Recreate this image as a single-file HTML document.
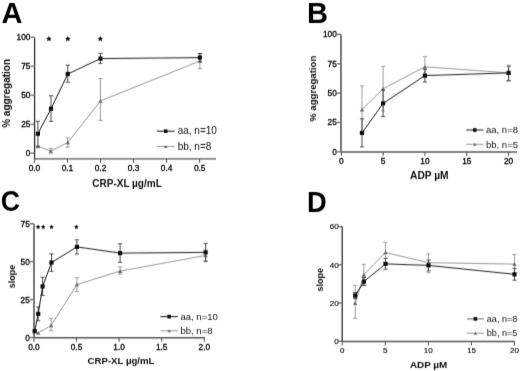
<!DOCTYPE html>
<html><head><meta charset="utf-8"><style>
html,body{margin:0;padding:0;background:#fff;}
body{width:520px;height:371px;overflow:hidden;}
svg{display:block;font-family:"Liberation Sans", sans-serif;filter:grayscale(1);}
</style></head><body>
<svg width="520" height="371" viewBox="0 0 520 371">
<defs><filter id="bl" x="-5%" y="-5%" width="110%" height="110%"><feConvolveMatrix order="3 3" kernelMatrix="0.0065 0.1170 0.0065 0.0370 0.6660 0.0370 0.0065 0.1170 0.0065" divisor="1" edgeMode="duplicate" preserveAlpha="false"/></filter></defs>
<rect width="520" height="371" fill="#fff"/>
<g filter="url(#bl)">
<text x="1.4" y="22.5" font-size="29" text-anchor="start" font-weight="bold" fill="#000">A</text>
<line x1="34.6" y1="37.3" x2="34.6" y2="158.85" stroke="#333" stroke-width="1.3"/>
<line x1="30.6" y1="153.2" x2="34.6" y2="153.2" stroke="#707070" stroke-width="1.4"/>
<text x="30.4" y="156.1" font-size="8.3" text-anchor="end" font-weight="normal" fill="#000" stroke="#000" stroke-width="0.3">0</text>
<line x1="30.6" y1="124.22" x2="34.6" y2="124.22" stroke="#707070" stroke-width="1.4"/>
<text x="30.4" y="127.12" font-size="8.3" text-anchor="end" font-weight="normal" fill="#000" stroke="#000" stroke-width="0.3">25</text>
<line x1="30.6" y1="95.25" x2="34.6" y2="95.25" stroke="#707070" stroke-width="1.4"/>
<text x="30.4" y="98.15" font-size="8.3" text-anchor="end" font-weight="normal" fill="#000" stroke="#000" stroke-width="0.3">50</text>
<line x1="30.6" y1="66.27" x2="34.6" y2="66.27" stroke="#707070" stroke-width="1.4"/>
<text x="30.4" y="69.17" font-size="8.3" text-anchor="end" font-weight="normal" fill="#000" stroke="#000" stroke-width="0.3">75</text>
<line x1="30.6" y1="37.3" x2="34.6" y2="37.3" stroke="#707070" stroke-width="1.4"/>
<text x="30.4" y="40.2" font-size="8.3" text-anchor="end" font-weight="normal" fill="#000" stroke="#000" stroke-width="0.3">100</text>
<line x1="34.6" y1="158.85" x2="216" y2="158.85" stroke="#555" stroke-width="1.45"/>
<line x1="34.4" y1="158.85" x2="34.4" y2="162.85" stroke="#505050" stroke-width="1.0"/>
<text x="34.4" y="170.55" font-size="8.3" text-anchor="middle" font-weight="normal" fill="#000" stroke="#000" stroke-width="0.3">0.0</text>
<line x1="67.45" y1="158.85" x2="67.45" y2="162.85" stroke="#505050" stroke-width="1.0"/>
<text x="67.45" y="170.55" font-size="8.3" text-anchor="middle" font-weight="normal" fill="#000" stroke="#000" stroke-width="0.3">0.1</text>
<line x1="100.5" y1="158.85" x2="100.5" y2="162.85" stroke="#505050" stroke-width="1.0"/>
<text x="100.5" y="170.55" font-size="8.3" text-anchor="middle" font-weight="normal" fill="#000" stroke="#000" stroke-width="0.3">0.2</text>
<line x1="133.55" y1="158.85" x2="133.55" y2="162.85" stroke="#505050" stroke-width="1.0"/>
<text x="133.55" y="170.55" font-size="8.3" text-anchor="middle" font-weight="normal" fill="#000" stroke="#000" stroke-width="0.3">0.3</text>
<line x1="166.6" y1="158.85" x2="166.6" y2="162.85" stroke="#505050" stroke-width="1.0"/>
<text x="166.6" y="170.55" font-size="8.3" text-anchor="middle" font-weight="normal" fill="#000" stroke="#000" stroke-width="0.3">0.4</text>
<line x1="199.65" y1="158.85" x2="199.65" y2="162.85" stroke="#505050" stroke-width="1.0"/>
<text x="199.65" y="170.55" font-size="8.3" text-anchor="middle" font-weight="normal" fill="#000" stroke="#000" stroke-width="0.3">0.5</text>
<text x="127" y="187.4" font-size="10" text-anchor="middle" font-weight="bold" fill="#111">CRP-XL µg/mL</text>
<text x="9.8" y="93.4" font-size="10" text-anchor="middle" font-weight="bold" fill="#111" transform="rotate(-90 9.8 93.4)">% aggregation</text>
<polygon points="48.90,35.90 49.75,37.63 51.66,37.90 50.28,39.25 50.60,41.15 48.90,40.25 47.20,41.15 47.52,39.25 46.14,37.90 48.05,37.63" fill="#111"/>
<polygon points="67.80,35.90 68.65,37.63 70.56,37.90 69.18,39.25 69.50,41.15 67.80,40.25 66.10,41.15 66.42,39.25 65.04,37.90 66.95,37.63" fill="#111"/>
<polygon points="100.30,35.90 101.15,37.63 103.06,37.90 101.68,39.25 102.00,41.15 100.30,40.25 98.60,41.15 98.92,39.25 97.54,37.90 99.45,37.63" fill="#111"/>
<line x1="50.8" y1="148.6" x2="50.8" y2="153.2" stroke="#9a9a9a" stroke-width="0.95"/>
<line x1="48.7" y1="148.6" x2="52.9" y2="148.6" stroke="#9a9a9a" stroke-width="0.95"/>
<line x1="48.7" y1="153.2" x2="52.9" y2="153.2" stroke="#9a9a9a" stroke-width="0.95"/>
<line x1="67.8" y1="137.8" x2="67.8" y2="147.2" stroke="#9a9a9a" stroke-width="0.95"/>
<line x1="65.7" y1="137.8" x2="69.9" y2="137.8" stroke="#9a9a9a" stroke-width="0.95"/>
<line x1="65.7" y1="147.2" x2="69.9" y2="147.2" stroke="#9a9a9a" stroke-width="0.95"/>
<line x1="100.5" y1="78.5" x2="100.5" y2="120.5" stroke="#9a9a9a" stroke-width="0.95"/>
<line x1="98.4" y1="78.5" x2="102.6" y2="78.5" stroke="#9a9a9a" stroke-width="0.95"/>
<line x1="98.4" y1="120.5" x2="102.6" y2="120.5" stroke="#9a9a9a" stroke-width="0.95"/>
<line x1="199.9" y1="54" x2="199.9" y2="68.6" stroke="#9a9a9a" stroke-width="0.95"/>
<line x1="197.8" y1="54" x2="202" y2="54" stroke="#9a9a9a" stroke-width="0.95"/>
<line x1="197.8" y1="68.6" x2="202" y2="68.6" stroke="#9a9a9a" stroke-width="0.95"/>
<path d="M37.9,146.3 L50.8,151.0 L67.8,142.5 L100.5,100.9 L199.9,61.0" fill="none" stroke="#8a8a8a" stroke-width="0.9"/>
<path d="M35.699999999999996,148.17000000000002 L40.1,148.17000000000002 L37.9,144.43 Z" fill="#6a6a6a"/>
<path d="M48.599999999999994,152.87 L53.0,152.87 L50.8,149.13 Z" fill="#6a6a6a"/>
<path d="M65.6,144.37 L70.0,144.37 L67.8,140.63 Z" fill="#6a6a6a"/>
<path d="M98.3,102.77000000000001 L102.7,102.77000000000001 L100.5,99.03 Z" fill="#6a6a6a"/>
<path d="M197.70000000000002,62.87 L202.1,62.87 L199.9,59.13 Z" fill="#6a6a6a"/>
<line x1="37.9" y1="121.3" x2="37.9" y2="146.3" stroke="#444" stroke-width="0.95"/>
<line x1="35.8" y1="121.3" x2="40" y2="121.3" stroke="#444" stroke-width="0.95"/>
<line x1="35.8" y1="146.3" x2="40" y2="146.3" stroke="#444" stroke-width="0.95"/>
<line x1="51" y1="95.7" x2="51" y2="121.4" stroke="#444" stroke-width="0.95"/>
<line x1="48.9" y1="95.7" x2="53.1" y2="95.7" stroke="#444" stroke-width="0.95"/>
<line x1="48.9" y1="121.4" x2="53.1" y2="121.4" stroke="#444" stroke-width="0.95"/>
<line x1="67.8" y1="65.2" x2="67.8" y2="82.2" stroke="#444" stroke-width="0.95"/>
<line x1="65.7" y1="65.2" x2="69.9" y2="65.2" stroke="#444" stroke-width="0.95"/>
<line x1="65.7" y1="82.2" x2="69.9" y2="82.2" stroke="#444" stroke-width="0.95"/>
<line x1="100.5" y1="53.4" x2="100.5" y2="63.4" stroke="#444" stroke-width="0.95"/>
<line x1="98.4" y1="53.4" x2="102.6" y2="53.4" stroke="#444" stroke-width="0.95"/>
<line x1="98.4" y1="63.4" x2="102.6" y2="63.4" stroke="#444" stroke-width="0.95"/>
<line x1="199.9" y1="53.5" x2="199.9" y2="61.7" stroke="#444" stroke-width="0.95"/>
<line x1="197.8" y1="53.5" x2="202" y2="53.5" stroke="#444" stroke-width="0.95"/>
<line x1="197.8" y1="61.7" x2="202" y2="61.7" stroke="#444" stroke-width="0.95"/>
<path d="M37.9,133.8 L51.0,108.7 L67.8,74.0 L100.5,58.6 L199.9,57.6" fill="none" stroke="#111" stroke-width="0.95"/>
<rect x="35.8" y="131.70000000000002" width="4.2" height="4.2" fill="#111"/>
<rect x="48.9" y="106.60000000000001" width="4.2" height="4.2" fill="#111"/>
<rect x="65.7" y="71.9" width="4.2" height="4.2" fill="#111"/>
<rect x="98.4" y="56.5" width="4.2" height="4.2" fill="#111"/>
<rect x="197.8" y="55.5" width="4.2" height="4.2" fill="#111"/>
<line x1="156.9" y1="131.2" x2="174.6" y2="131.2" stroke="#111" stroke-width="1.0"/>
<rect x="163.95" y="129.39999999999998" width="3.6" height="3.6" fill="#111"/>
<text x="177.7" y="134.3" font-size="10" text-anchor="start" font-weight="normal" fill="#111">aa, n=10</text>
<line x1="156.9" y1="146.5" x2="174.6" y2="146.5" stroke="#8a8a8a" stroke-width="0.9"/>
<path d="M163.95,148.03 L167.55,148.03 L165.75,144.97 Z" fill="#6a6a6a"/>
<text x="177.7" y="149.6" font-size="10" text-anchor="start" font-weight="normal" fill="#111">bb, n=8</text>
<text x="307.1" y="22.5" font-size="29" text-anchor="start" font-weight="bold" fill="#000">B</text>
<line x1="341" y1="34.4" x2="341" y2="152" stroke="#333" stroke-width="1.3"/>
<line x1="337" y1="151.8" x2="341" y2="151.8" stroke="#707070" stroke-width="1.4"/>
<text x="336.8" y="154.7" font-size="8.3" text-anchor="end" font-weight="normal" fill="#000" stroke="#000" stroke-width="0.3">0</text>
<line x1="337" y1="122.45" x2="341" y2="122.45" stroke="#707070" stroke-width="1.4"/>
<text x="336.8" y="125.35" font-size="8.3" text-anchor="end" font-weight="normal" fill="#000" stroke="#000" stroke-width="0.3">25</text>
<line x1="337" y1="93.1" x2="341" y2="93.1" stroke="#707070" stroke-width="1.4"/>
<text x="336.8" y="96" font-size="8.3" text-anchor="end" font-weight="normal" fill="#000" stroke="#000" stroke-width="0.3">50</text>
<line x1="337" y1="63.75" x2="341" y2="63.75" stroke="#707070" stroke-width="1.4"/>
<text x="336.8" y="66.65" font-size="8.3" text-anchor="end" font-weight="normal" fill="#000" stroke="#000" stroke-width="0.3">75</text>
<line x1="337" y1="34.4" x2="341" y2="34.4" stroke="#707070" stroke-width="1.4"/>
<text x="336.8" y="37.3" font-size="8.3" text-anchor="end" font-weight="normal" fill="#000" stroke="#000" stroke-width="0.3">100</text>
<line x1="341" y1="152" x2="517" y2="152" stroke="#555" stroke-width="1.45"/>
<line x1="341.3" y1="152" x2="341.3" y2="156" stroke="#505050" stroke-width="1.0"/>
<text x="341.3" y="163.7" font-size="8.3" text-anchor="middle" font-weight="normal" fill="#000" stroke="#000" stroke-width="0.3">0</text>
<line x1="383.12" y1="152" x2="383.12" y2="156" stroke="#505050" stroke-width="1.0"/>
<text x="383.12" y="163.7" font-size="8.3" text-anchor="middle" font-weight="normal" fill="#000" stroke="#000" stroke-width="0.3">5</text>
<line x1="424.95" y1="152" x2="424.95" y2="156" stroke="#505050" stroke-width="1.0"/>
<text x="424.95" y="163.7" font-size="8.3" text-anchor="middle" font-weight="normal" fill="#000" stroke="#000" stroke-width="0.3">10</text>
<line x1="466.78" y1="152" x2="466.78" y2="156" stroke="#505050" stroke-width="1.0"/>
<text x="466.78" y="163.7" font-size="8.3" text-anchor="middle" font-weight="normal" fill="#000" stroke="#000" stroke-width="0.3">15</text>
<line x1="508.6" y1="152" x2="508.6" y2="156" stroke="#505050" stroke-width="1.0"/>
<text x="508.6" y="163.7" font-size="8.3" text-anchor="middle" font-weight="normal" fill="#000" stroke="#000" stroke-width="0.3">20</text>
<text x="429.3" y="179.1" font-size="10.2" text-anchor="middle" font-weight="bold" fill="#111">ADP µM</text>
<text x="316.4" y="88.8" font-size="9.6" text-anchor="middle" font-weight="bold" fill="#111" transform="rotate(-90 316.4 88.8)">% aggregation</text>
<line x1="362" y1="85.8" x2="362" y2="133.2" stroke="#9a9a9a" stroke-width="0.95"/>
<line x1="359.9" y1="85.8" x2="364.1" y2="85.8" stroke="#9a9a9a" stroke-width="0.95"/>
<line x1="359.9" y1="133.2" x2="364.1" y2="133.2" stroke="#9a9a9a" stroke-width="0.95"/>
<line x1="383.1" y1="66.4" x2="383.1" y2="111" stroke="#9a9a9a" stroke-width="0.95"/>
<line x1="381" y1="66.4" x2="385.2" y2="66.4" stroke="#9a9a9a" stroke-width="0.95"/>
<line x1="381" y1="111" x2="385.2" y2="111" stroke="#9a9a9a" stroke-width="0.95"/>
<line x1="424.9" y1="56.6" x2="424.9" y2="77" stroke="#9a9a9a" stroke-width="0.95"/>
<line x1="422.8" y1="56.6" x2="427" y2="56.6" stroke="#9a9a9a" stroke-width="0.95"/>
<line x1="422.8" y1="77" x2="427" y2="77" stroke="#9a9a9a" stroke-width="0.95"/>
<line x1="508.6" y1="65.2" x2="508.6" y2="81.2" stroke="#9a9a9a" stroke-width="0.95"/>
<line x1="506.5" y1="65.2" x2="510.7" y2="65.2" stroke="#9a9a9a" stroke-width="0.95"/>
<line x1="506.5" y1="81.2" x2="510.7" y2="81.2" stroke="#9a9a9a" stroke-width="0.95"/>
<path d="M362,109.6 L383.1,88.8 L424.9,66.8 L508.6,72.9" fill="none" stroke="#8a8a8a" stroke-width="0.9"/>
<path d="M359.8,111.47 L364.2,111.47 L362,107.72999999999999 Z" fill="#6a6a6a"/>
<path d="M380.90000000000003,90.67 L385.3,90.67 L383.1,86.92999999999999 Z" fill="#6a6a6a"/>
<path d="M422.7,68.67 L427.09999999999997,68.67 L424.9,64.92999999999999 Z" fill="#6a6a6a"/>
<path d="M506.40000000000003,74.77000000000001 L510.8,74.77000000000001 L508.6,71.03 Z" fill="#6a6a6a"/>
<line x1="362" y1="118.8" x2="362" y2="146.8" stroke="#444" stroke-width="0.95"/>
<line x1="359.9" y1="118.8" x2="364.1" y2="118.8" stroke="#444" stroke-width="0.95"/>
<line x1="359.9" y1="146.8" x2="364.1" y2="146.8" stroke="#444" stroke-width="0.95"/>
<line x1="383.1" y1="90.2" x2="383.1" y2="116.6" stroke="#444" stroke-width="0.95"/>
<line x1="381" y1="90.2" x2="385.2" y2="90.2" stroke="#444" stroke-width="0.95"/>
<line x1="381" y1="116.6" x2="385.2" y2="116.6" stroke="#444" stroke-width="0.95"/>
<line x1="424.9" y1="69.2" x2="424.9" y2="82" stroke="#444" stroke-width="0.95"/>
<line x1="422.8" y1="69.2" x2="427" y2="69.2" stroke="#444" stroke-width="0.95"/>
<line x1="422.8" y1="82" x2="427" y2="82" stroke="#444" stroke-width="0.95"/>
<line x1="508.6" y1="66.2" x2="508.6" y2="80.5" stroke="#444" stroke-width="0.95"/>
<line x1="506.5" y1="66.2" x2="510.7" y2="66.2" stroke="#444" stroke-width="0.95"/>
<line x1="506.5" y1="80.5" x2="510.7" y2="80.5" stroke="#444" stroke-width="0.95"/>
<path d="M362,132.9 L383.1,103.4 L424.9,75.6 L508.6,72.9" fill="none" stroke="#111" stroke-width="0.95"/>
<rect x="359.9" y="130.8" width="4.2" height="4.2" fill="#111"/>
<rect x="381.0" y="101.30000000000001" width="4.2" height="4.2" fill="#111"/>
<rect x="422.79999999999995" y="73.5" width="4.2" height="4.2" fill="#111"/>
<rect x="506.5" y="70.80000000000001" width="4.2" height="4.2" fill="#111"/>
<line x1="466.3" y1="130" x2="483.3" y2="130" stroke="#111" stroke-width="1.0"/>
<rect x="473.0" y="128.2" width="3.6" height="3.6" fill="#111"/>
<text x="486" y="133.2" font-size="9.5" text-anchor="start" font-weight="normal" fill="#111">aa, n=8</text>
<line x1="466.3" y1="144.3" x2="483.3" y2="144.3" stroke="#8a8a8a" stroke-width="0.9"/>
<path d="M473.0,145.83 L476.6,145.83 L474.8,142.77 Z" fill="#6a6a6a"/>
<text x="486" y="147.5" font-size="9.5" text-anchor="start" font-weight="normal" fill="#111">bb, n=5</text>
<text x="0.7" y="211.1" font-size="29" text-anchor="start" font-weight="bold" fill="#000" transform="translate(0.7 211.1) scale(0.92 1) translate(-0.7 -211.1)">C</text>
<line x1="34" y1="223.68" x2="34" y2="337.8" stroke="#333" stroke-width="1.3"/>
<line x1="30" y1="337.6" x2="34" y2="337.6" stroke="#707070" stroke-width="1.4"/>
<text x="29.8" y="340.5" font-size="8.3" text-anchor="end" font-weight="normal" fill="#000" stroke="#000" stroke-width="0.3">0</text>
<line x1="30" y1="299.62" x2="34" y2="299.62" stroke="#707070" stroke-width="1.4"/>
<text x="29.8" y="302.52" font-size="8.3" text-anchor="end" font-weight="normal" fill="#000" stroke="#000" stroke-width="0.3">25</text>
<line x1="30" y1="261.65" x2="34" y2="261.65" stroke="#707070" stroke-width="1.4"/>
<text x="29.8" y="264.55" font-size="8.3" text-anchor="end" font-weight="normal" fill="#000" stroke="#000" stroke-width="0.3">50</text>
<line x1="30" y1="223.68" x2="34" y2="223.68" stroke="#707070" stroke-width="1.4"/>
<text x="29.8" y="226.58" font-size="8.3" text-anchor="end" font-weight="normal" fill="#000" stroke="#000" stroke-width="0.3">75</text>
<line x1="34" y1="337.8" x2="205" y2="337.8" stroke="#555" stroke-width="1.45"/>
<line x1="33.9" y1="337.8" x2="33.9" y2="341.8" stroke="#505050" stroke-width="1.0"/>
<text x="33.9" y="349.5" font-size="8.3" text-anchor="middle" font-weight="normal" fill="#000" stroke="#000" stroke-width="0.3">0.0</text>
<line x1="76.5" y1="337.8" x2="76.5" y2="341.8" stroke="#505050" stroke-width="1.0"/>
<text x="76.5" y="349.5" font-size="8.3" text-anchor="middle" font-weight="normal" fill="#000" stroke="#000" stroke-width="0.3">0.5</text>
<line x1="119.1" y1="337.8" x2="119.1" y2="341.8" stroke="#505050" stroke-width="1.0"/>
<text x="119.1" y="349.5" font-size="8.3" text-anchor="middle" font-weight="normal" fill="#000" stroke="#000" stroke-width="0.3">1.0</text>
<line x1="161.7" y1="337.8" x2="161.7" y2="341.8" stroke="#505050" stroke-width="1.0"/>
<text x="161.7" y="349.5" font-size="8.3" text-anchor="middle" font-weight="normal" fill="#000" stroke="#000" stroke-width="0.3">1.5</text>
<line x1="204.3" y1="337.8" x2="204.3" y2="341.8" stroke="#505050" stroke-width="1.0"/>
<text x="204.3" y="349.5" font-size="8.3" text-anchor="middle" font-weight="normal" fill="#000" stroke="#000" stroke-width="0.3">2.0</text>
<text x="121" y="364.1" font-size="9.65" text-anchor="middle" font-weight="bold" fill="#111">CRP-XL µg/mL</text>
<text x="14.6" y="276.6" font-size="9" text-anchor="middle" font-weight="bold" fill="#111" transform="rotate(-90 14.6 276.6)">slope</text>
<polygon points="38.10,224.40 38.83,225.89 40.48,226.13 39.29,227.29 39.57,228.92 38.10,228.15 36.63,228.92 36.91,227.29 35.72,226.13 37.37,225.89" fill="#111"/>
<polygon points="43.20,224.40 43.93,225.89 45.58,226.13 44.39,227.29 44.67,228.92 43.20,228.15 41.73,228.92 42.01,227.29 40.82,226.13 42.47,225.89" fill="#111"/>
<polygon points="51.50,224.40 52.23,225.89 53.88,226.13 52.69,227.29 52.97,228.92 51.50,228.15 50.03,228.92 50.31,227.29 49.12,226.13 50.77,225.89" fill="#111"/>
<polygon points="76.40,224.40 77.13,225.89 78.78,226.13 77.59,227.29 77.87,228.92 76.40,228.15 74.93,228.92 75.21,227.29 74.02,226.13 75.67,225.89" fill="#111"/>
<line x1="51.1" y1="318.4" x2="51.1" y2="330.7" stroke="#9a9a9a" stroke-width="0.95"/>
<line x1="49" y1="318.4" x2="53.2" y2="318.4" stroke="#9a9a9a" stroke-width="0.95"/>
<line x1="49" y1="330.7" x2="53.2" y2="330.7" stroke="#9a9a9a" stroke-width="0.95"/>
<line x1="76.9" y1="277.7" x2="76.9" y2="291.5" stroke="#9a9a9a" stroke-width="0.95"/>
<line x1="74.8" y1="277.7" x2="79" y2="277.7" stroke="#9a9a9a" stroke-width="0.95"/>
<line x1="74.8" y1="291.5" x2="79" y2="291.5" stroke="#9a9a9a" stroke-width="0.95"/>
<line x1="120.1" y1="266.9" x2="120.1" y2="274.2" stroke="#9a9a9a" stroke-width="0.95"/>
<line x1="118" y1="266.9" x2="122.2" y2="266.9" stroke="#9a9a9a" stroke-width="0.95"/>
<line x1="118" y1="274.2" x2="122.2" y2="274.2" stroke="#9a9a9a" stroke-width="0.95"/>
<line x1="205.6" y1="250" x2="205.6" y2="260.8" stroke="#9a9a9a" stroke-width="0.95"/>
<line x1="203.5" y1="250" x2="207.7" y2="250" stroke="#9a9a9a" stroke-width="0.95"/>
<line x1="203.5" y1="260.8" x2="207.7" y2="260.8" stroke="#9a9a9a" stroke-width="0.95"/>
<path d="M34.7,331.5 L38.2,332.8 L51.1,325.5 L76.9,284.5 L120.1,271.1 L205.6,255.4" fill="none" stroke="#8a8a8a" stroke-width="0.9"/>
<path d="M32.5,333.37 L36.900000000000006,333.37 L34.7,329.63 Z" fill="#6a6a6a"/>
<path d="M36.0,334.67 L40.400000000000006,334.67 L38.2,330.93 Z" fill="#6a6a6a"/>
<path d="M48.9,327.37 L53.300000000000004,327.37 L51.1,323.63 Z" fill="#6a6a6a"/>
<path d="M74.7,286.37 L79.10000000000001,286.37 L76.9,282.63 Z" fill="#6a6a6a"/>
<path d="M117.89999999999999,272.97 L122.3,272.97 L120.1,269.23 Z" fill="#6a6a6a"/>
<path d="M203.4,257.27 L207.79999999999998,257.27 L205.6,253.53 Z" fill="#6a6a6a"/>
<line x1="38.2" y1="307" x2="38.2" y2="320.8" stroke="#444" stroke-width="0.95"/>
<line x1="36.1" y1="307" x2="40.3" y2="307" stroke="#444" stroke-width="0.95"/>
<line x1="36.1" y1="320.8" x2="40.3" y2="320.8" stroke="#444" stroke-width="0.95"/>
<line x1="42.6" y1="277.3" x2="42.6" y2="295.4" stroke="#444" stroke-width="0.95"/>
<line x1="40.5" y1="277.3" x2="44.7" y2="277.3" stroke="#444" stroke-width="0.95"/>
<line x1="40.5" y1="295.4" x2="44.7" y2="295.4" stroke="#444" stroke-width="0.95"/>
<line x1="51.5" y1="253.9" x2="51.5" y2="271.4" stroke="#444" stroke-width="0.95"/>
<line x1="49.4" y1="253.9" x2="53.6" y2="253.9" stroke="#444" stroke-width="0.95"/>
<line x1="49.4" y1="271.4" x2="53.6" y2="271.4" stroke="#444" stroke-width="0.95"/>
<line x1="76.9" y1="239.8" x2="76.9" y2="254" stroke="#444" stroke-width="0.95"/>
<line x1="74.8" y1="239.8" x2="79" y2="239.8" stroke="#444" stroke-width="0.95"/>
<line x1="74.8" y1="254" x2="79" y2="254" stroke="#444" stroke-width="0.95"/>
<line x1="120.1" y1="243.8" x2="120.1" y2="262.3" stroke="#444" stroke-width="0.95"/>
<line x1="118" y1="243.8" x2="122.2" y2="243.8" stroke="#444" stroke-width="0.95"/>
<line x1="118" y1="262.3" x2="122.2" y2="262.3" stroke="#444" stroke-width="0.95"/>
<line x1="205.6" y1="243.4" x2="205.6" y2="261.4" stroke="#444" stroke-width="0.95"/>
<line x1="203.5" y1="243.4" x2="207.7" y2="243.4" stroke="#444" stroke-width="0.95"/>
<line x1="203.5" y1="261.4" x2="207.7" y2="261.4" stroke="#444" stroke-width="0.95"/>
<path d="M34.7,331.1 L38.2,313.9 L42.6,286.5 L51.5,262.5 L76.9,246.9 L120.1,253.1 L205.6,252.4" fill="none" stroke="#111" stroke-width="0.95"/>
<rect x="32.6" y="329.0" width="4.2" height="4.2" fill="#111"/>
<rect x="36.1" y="311.79999999999995" width="4.2" height="4.2" fill="#111"/>
<rect x="40.5" y="284.4" width="4.2" height="4.2" fill="#111"/>
<rect x="49.4" y="260.4" width="4.2" height="4.2" fill="#111"/>
<rect x="74.80000000000001" y="244.8" width="4.2" height="4.2" fill="#111"/>
<rect x="118.0" y="251.0" width="4.2" height="4.2" fill="#111"/>
<rect x="203.5" y="250.3" width="4.2" height="4.2" fill="#111"/>
<line x1="160.5" y1="316.6" x2="177.8" y2="316.6" stroke="#111" stroke-width="1.0"/>
<rect x="167.35" y="314.8" width="3.6" height="3.6" fill="#111"/>
<text x="180.5" y="319.7" font-size="9.5" text-anchor="start" font-weight="normal" fill="#111">aa, n=10</text>
<line x1="160.5" y1="330.8" x2="177.8" y2="330.8" stroke="#8a8a8a" stroke-width="0.9"/>
<path d="M167.35,332.33 L170.95000000000002,332.33 L169.15,329.27000000000004 Z" fill="#6a6a6a"/>
<text x="180.5" y="333.9" font-size="9.5" text-anchor="start" font-weight="normal" fill="#111">bb, n=8</text>
<text x="307" y="211.6" font-size="29" text-anchor="start" font-weight="bold" fill="#000" transform="translate(307.0 211.6) scale(0.94 1) translate(-307.0 -211.6)">D</text>
<line x1="342.2" y1="226.58" x2="342.2" y2="341.5" stroke="#333" stroke-width="1.3"/>
<line x1="338.2" y1="341.3" x2="342.2" y2="341.3" stroke="#707070" stroke-width="1.4"/>
<text x="338.7" y="344.2" font-size="8.1" text-anchor="end" font-weight="normal" fill="#000" stroke="#000" stroke-width="0.12">0</text>
<line x1="338.2" y1="303.06" x2="342.2" y2="303.06" stroke="#707070" stroke-width="1.4"/>
<text x="338.7" y="305.96" font-size="8.1" text-anchor="end" font-weight="normal" fill="#000" stroke="#000" stroke-width="0.12">20</text>
<line x1="338.2" y1="264.82" x2="342.2" y2="264.82" stroke="#707070" stroke-width="1.4"/>
<text x="338.7" y="267.72" font-size="8.1" text-anchor="end" font-weight="normal" fill="#000" stroke="#000" stroke-width="0.12">40</text>
<line x1="338.2" y1="226.58" x2="342.2" y2="226.58" stroke="#707070" stroke-width="1.4"/>
<text x="338.7" y="229.48" font-size="8.1" text-anchor="end" font-weight="normal" fill="#000" stroke="#000" stroke-width="0.12">60</text>
<line x1="342.2" y1="341.5" x2="514.7" y2="341.5" stroke="#555" stroke-width="1.45"/>
<line x1="342.2" y1="341.5" x2="342.2" y2="345.5" stroke="#505050" stroke-width="1.0"/>
<text x="342.2" y="353.2" font-size="8.1" text-anchor="middle" font-weight="normal" fill="#000" stroke="#000" stroke-width="0.12">0</text>
<line x1="385.27" y1="341.5" x2="385.27" y2="345.5" stroke="#505050" stroke-width="1.0"/>
<text x="385.27" y="353.2" font-size="8.1" text-anchor="middle" font-weight="normal" fill="#000" stroke="#000" stroke-width="0.12">5</text>
<line x1="428.35" y1="341.5" x2="428.35" y2="345.5" stroke="#505050" stroke-width="1.0"/>
<text x="428.35" y="353.2" font-size="8.1" text-anchor="middle" font-weight="normal" fill="#000" stroke="#000" stroke-width="0.12">10</text>
<line x1="471.42" y1="341.5" x2="471.42" y2="345.5" stroke="#505050" stroke-width="1.0"/>
<text x="471.42" y="353.2" font-size="8.1" text-anchor="middle" font-weight="normal" fill="#000" stroke="#000" stroke-width="0.12">15</text>
<line x1="514.5" y1="341.5" x2="514.5" y2="345.5" stroke="#505050" stroke-width="1.0"/>
<text x="514.5" y="353.2" font-size="8.1" text-anchor="middle" font-weight="normal" fill="#000" stroke="#000" stroke-width="0.12">20</text>
<text x="428.6" y="367.6" font-size="9.9" text-anchor="middle" font-weight="bold" fill="#111">ADP µM</text>
<text x="323.5" y="279.7" font-size="9" text-anchor="middle" font-weight="bold" fill="#111" transform="rotate(-90 323.5 279.7)">slope</text>
<line x1="355.2" y1="285.4" x2="355.2" y2="318.3" stroke="#9a9a9a" stroke-width="0.95"/>
<line x1="353.1" y1="285.4" x2="357.3" y2="285.4" stroke="#9a9a9a" stroke-width="0.95"/>
<line x1="353.1" y1="318.3" x2="357.3" y2="318.3" stroke="#9a9a9a" stroke-width="0.95"/>
<line x1="363.9" y1="264.4" x2="363.9" y2="285.4" stroke="#9a9a9a" stroke-width="0.95"/>
<line x1="361.8" y1="264.4" x2="366" y2="264.4" stroke="#9a9a9a" stroke-width="0.95"/>
<line x1="361.8" y1="285.4" x2="366" y2="285.4" stroke="#9a9a9a" stroke-width="0.95"/>
<line x1="385.5" y1="242.4" x2="385.5" y2="262.6" stroke="#9a9a9a" stroke-width="0.95"/>
<line x1="383.4" y1="242.4" x2="387.6" y2="242.4" stroke="#9a9a9a" stroke-width="0.95"/>
<line x1="383.4" y1="262.6" x2="387.6" y2="262.6" stroke="#9a9a9a" stroke-width="0.95"/>
<line x1="428.5" y1="253.8" x2="428.5" y2="272.7" stroke="#9a9a9a" stroke-width="0.95"/>
<line x1="426.4" y1="253.8" x2="430.6" y2="253.8" stroke="#9a9a9a" stroke-width="0.95"/>
<line x1="426.4" y1="272.7" x2="430.6" y2="272.7" stroke="#9a9a9a" stroke-width="0.95"/>
<line x1="514.5" y1="254.4" x2="514.5" y2="273.8" stroke="#9a9a9a" stroke-width="0.95"/>
<line x1="512.4" y1="254.4" x2="516.6" y2="254.4" stroke="#9a9a9a" stroke-width="0.95"/>
<line x1="512.4" y1="273.8" x2="516.6" y2="273.8" stroke="#9a9a9a" stroke-width="0.95"/>
<path d="M355.2,303.2 L363.9,274.8 L385.5,252.5 L428.5,262.7 L514.5,264.1" fill="none" stroke="#8a8a8a" stroke-width="0.9"/>
<path d="M353.0,305.07 L357.4,305.07 L355.2,301.33 Z" fill="#6a6a6a"/>
<path d="M361.7,276.67 L366.09999999999997,276.67 L363.9,272.93 Z" fill="#6a6a6a"/>
<path d="M383.3,254.37 L387.7,254.37 L385.5,250.63 Z" fill="#6a6a6a"/>
<path d="M426.3,264.57 L430.7,264.57 L428.5,260.83 Z" fill="#6a6a6a"/>
<path d="M512.3,265.97 L516.7,265.97 L514.5,262.23 Z" fill="#6a6a6a"/>
<line x1="355.2" y1="292.5" x2="355.2" y2="298.7" stroke="#444" stroke-width="0.95"/>
<line x1="353.1" y1="292.5" x2="357.3" y2="292.5" stroke="#444" stroke-width="0.95"/>
<line x1="353.1" y1="298.7" x2="357.3" y2="298.7" stroke="#444" stroke-width="0.95"/>
<line x1="363.9" y1="277.5" x2="363.9" y2="285.6" stroke="#444" stroke-width="0.95"/>
<line x1="361.8" y1="277.5" x2="366" y2="277.5" stroke="#444" stroke-width="0.95"/>
<line x1="361.8" y1="285.6" x2="366" y2="285.6" stroke="#444" stroke-width="0.95"/>
<line x1="385.5" y1="258.4" x2="385.5" y2="269.2" stroke="#444" stroke-width="0.95"/>
<line x1="383.4" y1="258.4" x2="387.6" y2="258.4" stroke="#444" stroke-width="0.95"/>
<line x1="383.4" y1="269.2" x2="387.6" y2="269.2" stroke="#444" stroke-width="0.95"/>
<line x1="428.5" y1="260" x2="428.5" y2="270.8" stroke="#444" stroke-width="0.95"/>
<line x1="426.4" y1="260" x2="430.6" y2="260" stroke="#444" stroke-width="0.95"/>
<line x1="426.4" y1="270.8" x2="430.6" y2="270.8" stroke="#444" stroke-width="0.95"/>
<line x1="514.5" y1="268.4" x2="514.5" y2="280.2" stroke="#444" stroke-width="0.95"/>
<line x1="512.4" y1="268.4" x2="516.6" y2="268.4" stroke="#444" stroke-width="0.95"/>
<line x1="512.4" y1="280.2" x2="516.6" y2="280.2" stroke="#444" stroke-width="0.95"/>
<path d="M355.2,295.6 L363.9,281.6 L385.5,263.9 L428.5,265.4 L514.5,274.3" fill="none" stroke="#111" stroke-width="0.95"/>
<rect x="353.09999999999997" y="293.5" width="4.2" height="4.2" fill="#111"/>
<rect x="361.79999999999995" y="279.5" width="4.2" height="4.2" fill="#111"/>
<rect x="383.4" y="261.79999999999995" width="4.2" height="4.2" fill="#111"/>
<rect x="426.4" y="263.29999999999995" width="4.2" height="4.2" fill="#111"/>
<rect x="512.4" y="272.2" width="4.2" height="4.2" fill="#111"/>
<line x1="466.9" y1="318.9" x2="483.9" y2="318.9" stroke="#666" stroke-width="1.0"/>
<rect x="473.59999999999997" y="317.09999999999997" width="3.6" height="3.6" fill="#111"/>
<text x="486.8" y="321.7" font-size="9.1" text-anchor="start" font-weight="normal" fill="#111">aa, n=8</text>
<line x1="466.9" y1="333.2" x2="483.9" y2="333.2" stroke="#8a8a8a" stroke-width="0.9"/>
<path d="M473.59999999999997,334.72999999999996 L477.2,334.72999999999996 L475.4,331.67 Z" fill="#6a6a6a"/>
<text x="486.8" y="336" font-size="9.1" text-anchor="start" font-weight="normal" fill="#111">bb, n=5</text>
</g>
</svg>
</body></html>
